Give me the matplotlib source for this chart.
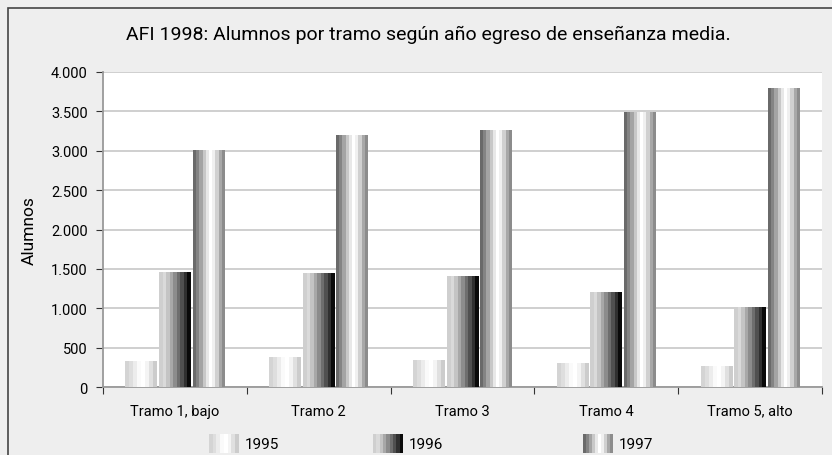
import matplotlib
matplotlib.use("Agg")
import matplotlib.pyplot as plt
import matplotlib.ticker as ticker
from matplotlib.patches import Rectangle
import numpy as np

plt.rcParams["font.family"] = ["Liberation Sans Narrow", "Roboto", "DejaVu Sans"]

# ── Data ──────────────────────────────────────────────────────────────────────
categories = ["Tramo 1, bajo", "Tramo 2", "Tramo 3", "Tramo 4", "Tramo 5, alto"]
years = ["1995", "1996", "1997"]
v1995 = [320, 370, 335, 300, 260]
v1996 = [1450, 1440, 1400, 1200, 1010]
v1997 = [3000, 3190, 3250, 3480, 3790]
yticks = [0, 500, 1000, 1500, 2000, 2500, 3000, 3500, 4000]

# striped grey shading for each series (left -> right)
stripes = {
    "1995": ["#d4d4d4", "#dedede", "#ececec", "#fafafa", "#ffffff", "#f4f4f4", "#e0e0e0", "#cccccc"],
    "1996": ["#cfcfcf", "#dadada", "#c4c4c4", "#a8a8a8", "#8c8c8c", "#6e6e6e", "#505050", "#303030", "#0a0a0a"],
    "1997": ["#6a6a6a", "#848484", "#a4a4a4", "#c8c8c8", "#e8e8e8", "#ffffff", "#f0f0f0", "#d0d0d0", "#a8a8a8", "#8c8c8c"],
}

BG = "#eeeeee"


def stripe_img(cols):
    rgb = np.array([matplotlib.colors.to_rgb(c) for c in cols])
    return rgb[np.newaxis, :, :]


fig = plt.figure(figsize=(8.32, 4.56), dpi=100, facecolor=BG)
ax = fig.add_axes([0.1238, 0.149, 0.864, 0.691])
ax.set_facecolor("white")

width = 0.22
offsets = [-0.234, 0.0, 0.234]
x = np.arange(len(categories))

for series, off, yr in zip([v1995, v1996, v1997], offsets, years):
    bars = ax.bar(x + off, series, width=width, color="none", linewidth=0, zorder=3)
    img = stripe_img(stripes[yr])
    for b in bars:
        x0, w, h = b.get_x(), b.get_width(), b.get_height()
        ax.imshow(img, extent=(x0, x0 + w, 0, h), aspect="auto",
                  interpolation="nearest", zorder=3)

ax.set_xlim(-0.5, len(categories) - 0.5)
ax.set_ylim(0, 4000)

# ── Axes styling ──────────────────────────────────────────────────────────────
ax.set_yticks(yticks)
ax.yaxis.set_major_formatter(ticker.FuncFormatter(lambda v, _: f"{int(v):,}".replace(",", ".")))
ax.grid(True, axis="y", color="#cccccc", linewidth=1.3, zorder=0)
ax.set_axisbelow(True)

ax.set_xticks(x)
ax.set_xticklabels(categories)
ax.set_xticks(np.arange(-0.5, len(categories)), minor=True)
ax.tick_params(axis="x", which="major", length=0, labelsize=10.5, pad=12)
ax.tick_params(axis="x", which="minor", length=5, color="#333333", width=0.8)
ax.tick_params(axis="y", length=5, color="#333333", width=0.8, labelsize=10.5, pad=6)

for side in ["top", "right"]:
    ax.spines[side].set_visible(False)
ax.spines["left"].set_color("#999999")
ax.spines["bottom"].set_color("#999999")
ax.spines["left"].set_linewidth(1.3)
ax.spines["bottom"].set_linewidth(1.3)

ax.set_ylabel("Alumnos", fontsize=12.5, labelpad=10)

fig.text(0.515, 0.923, "AFI 1998: Alumnos por tramo según año egreso de enseñanza media.",
         ha="center", va="center", fontsize=14)

# ── Legend (striped swatches) ────────────────────────────────────────────────
leg_x = [209, 373, 583]
for lx, yr in zip(leg_x, years):
    sw = fig.add_axes([lx / 832, 1 - 454 / 456, 30 / 832, 19 / 456])
    sw.imshow(stripe_img(stripes[yr]), aspect="auto", interpolation="nearest")
    sw.axis("off")
    fig.text((lx + 36) / 832, 1 - 445 / 456, yr, ha="left", va="center", fontsize=11)

# outer frame
fig.patches.append(Rectangle((8 / 832, -0.01), 1.0, 1 - 9 / 456 + 0.01,
                             transform=fig.transFigure, fill=False,
                             edgecolor="#444444", linewidth=1.2))

fig.savefig("out.png", dpi=100, facecolor=BG)
